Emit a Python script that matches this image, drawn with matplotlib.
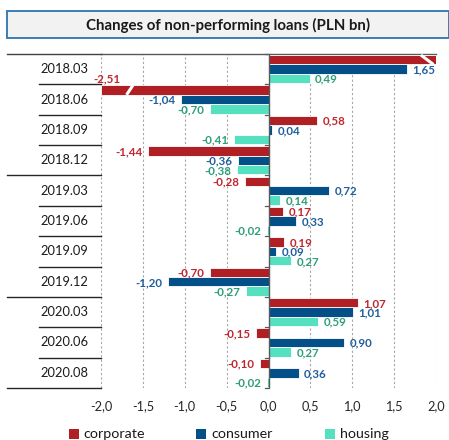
import matplotlib
matplotlib.use("Agg")
import matplotlib.pyplot as plt
from matplotlib.patches import Rectangle
from matplotlib.lines import Line2D
import matplotlib.transforms as mtransforms

plt.rcParams['font.family'] = ['Lato', 'DejaVu Sans']

# ---------------- data ----------------
categories = ["2018.03", "2018.06", "2018.09", "2018.12", "2019.03", "2019.06",
              "2019.09", "2019.12", "2020.03", "2020.06", "2020.08"]
corporate = [2.45, -2.51, 0.58, -1.44, -0.28, 0.17, 0.19, -0.70, 1.07, -0.15, -0.10]
consumer = [1.65, -1.04, 0.04, -0.36, 0.72, 0.33, 0.09, -1.20, 1.01, 0.90, 0.36]
housing = [0.49, -0.70, -0.41, -0.38, 0.14, -0.02, 0.27, -0.27, 0.59, 0.27, -0.02]
series_names = ["corporate", "consumer", "housing"]
xticks = [-2.0, -1.5, -1.0, -0.5, 0.0, 0.5, 1.0, 1.5, 2.0]
title = "Changes of non-performing loans (PLN bn)"

bar_colors = ["#B01F24", "#034F88", "#55E0BF"]
label_colors = ["#C0272D", "#1F5E9C", "#2E9E78"]

W, H = 449, 440
fig = plt.figure(figsize=(W / 100, H / 100), dpi=100)
ax = fig.add_axes([101 / W, 1 - 388 / H, (436 - 101) / W, (388 - 54) / H])

XMIN, XMAX = -2.0, 2.0
n = len(categories)
bh = 0.31
offsets = [-0.31, 0.0, 0.31]
all_series = [corporate, consumer, housing]

ax.set_xlim(XMIN, XMAX)
ax.set_ylim(n - 0.5, -0.5)

# gridlines
for t in xticks:
    if t != 0:
        ax.axvline(t, color="#A6A6A6", lw=0.8, ls=(0, (2, 2)), zorder=0)

LFS = 8.3
for s, (vals, off) in enumerate(zip(all_series, offsets)):
    for i, v in enumerate(vals):
        y = i + off
        vc = max(min(v, XMAX), XMIN)
        ax.barh(y, vc, height=bh, color=bar_colors[s], edgecolor="white",
                linewidth=0.6, zorder=2)
        txt = f"{v:.2f}".replace(".", ",")
        if v > XMAX:
            # clipped, break mark, no label
            ax.plot([1.82, 1.97], [y - bh / 2, y + bh / 2], color="white",
                    lw=2.2, zorder=3, solid_capstyle="butt")
            continue
        if v < XMIN:
            ax.plot([-1.695, -1.62], [y + bh / 2, y - bh / 2], color="white",
                    lw=2.2, zorder=3, solid_capstyle="butt")
            ax.annotate(txt, (XMIN, y - bh / 2), xytext=(4, 1),
                        textcoords="offset points", ha="center", va="bottom",
                        color=label_colors[s], fontsize=LFS, fontweight="bold",
                        zorder=4)
            continue
        if v >= 0:
            ax.annotate(txt, (v, y), xytext=(4, -0.5), textcoords="offset points",
                        ha="left", va="center", color=label_colors[s],
                        fontsize=LFS, fontweight="bold", zorder=4)
        else:
            ax.annotate(txt, (v, y), xytext=(-4, -0.5), textcoords="offset points",
                        ha="right", va="center", color=label_colors[s],
                        fontsize=LFS, fontweight="bold", zorder=4)

# zero axis with ticks
ax.axvline(0, color="#595959", lw=1.0, zorder=3)
for k in range(n + 1):
    ax.plot([-0.04, 0], [k - 0.5, k - 0.5], color="#595959", lw=0.9, zorder=3,
            clip_on=False)

for sp in ax.spines.values():
    sp.set_visible(False)
ax.set_yticks([])
ax.set_xticks(xticks)
ax.set_xticklabels([f"{t:.1f}".replace(".", ",") for t in xticks], fontsize=9.2,
                   color="#262626")
ax.tick_params(axis="x", length=0, pad=9)

# left category table
tr = mtransforms.blended_transform_factory(fig.transFigure, ax.transData)
long_bounds = {0, 4, 8, 11}
for k in range(n + 1):
    y = k - 0.5
    x0 = 7 / W if k in long_bounds else 39 / W
    col = "#404040" if k == 0 else "#262626"
    ax.add_line(Line2D([x0, 101 / W], [y, y], transform=tr, color=col, lw=1.0,
                       clip_on=False))
# top line across the plot
ax.plot([XMIN, XMAX], [-0.5, -0.5], color="#595959", lw=1.0, clip_on=False,
        zorder=1)
for i, c in enumerate(categories):
    ax.text(64 / W, i, c, transform=tr, ha="center", va="center", fontsize=9.3,
            color="#1a1a1a")

# title box
fig.patches.append(Rectangle((7 / W, 1 - 38 / H), (449 - 7) / W, 27 / H,
                             transform=fig.transFigure, facecolor="#F2F2F2",
                             edgecolor="#3A7DB5", lw=1.4))
fig.text(228 / W, 1 - 25 / H, title, ha="center", va="center", fontsize=10.8,
         fontweight="bold", color="#1a1a1a")

# legend
leg_x = [69, 196, 325]
txt_x = [83, 211, 340]
for s in range(3):
    fig.patches.append(Rectangle((leg_x[s] / W, 1 - 439 / H), 10 / W, 10 / H,
                                 transform=fig.transFigure,
                                 facecolor=bar_colors[s], edgecolor="none"))
    fig.text(txt_x[s] / W, 1 - 434 / H, series_names[s], ha="left",
             va="center", fontsize=10.3, color="#1a1a1a")

fig.savefig("out.png", dpi=100)
